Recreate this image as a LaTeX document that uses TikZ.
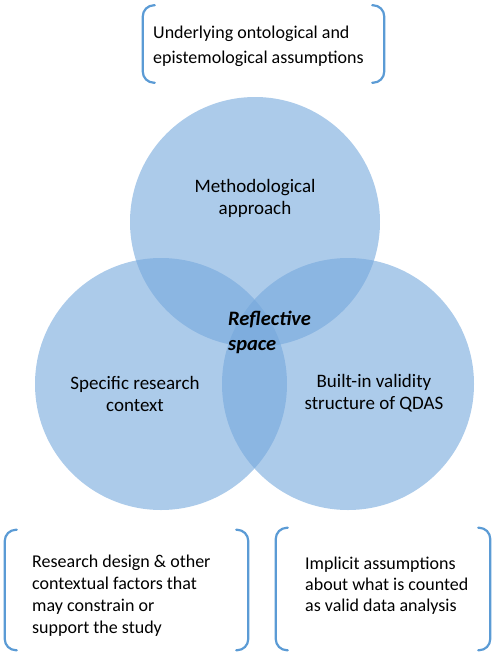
\documentclass[tikz,border=0pt]{standalone}
\usepackage{fontspec}
\setmainfont{Carlito}
\definecolor{vennBlue}{RGB}{117,168,220}
\definecolor{bracketBlue}{RGB}{91,155,213}
% one bracket pair round a frame node: left and right halves with short tails
\newcommand{\vennBrackets}[1]{%
  \draw[bracketline] ([xshift=12pt]#1.north west) -- (#1.north west) -- (#1.south west) -- ([xshift=12pt]#1.south west);
  \draw[bracketline] ([xshift=-12pt]#1.north east) -- (#1.north east) -- (#1.south east) -- ([xshift=-12pt]#1.south east);}

\begin{document}
\begin{tikzpicture}[x=1pt,y=-1pt,
  vennset/.style={fill=vennBlue, fill opacity=0.6},
  vennlabel/.style={align=center, font=\fontsize{19}{22}\selectfont, inner sep=0pt},
  bracketline/.style={bracketBlue, line width=2.2pt, rounded corners=11pt, line cap=round},
  bracketframe/.style={inner sep=0pt},
  notetext/.style={inner sep=0pt, anchor=west, align=left, font=\fontsize{18}{22}\selectfont}]
\useasboundingbox (0,0) rectangle (500,662);
% the three sets
\fill[vennset] (255,222) circle[radius=125];
\fill[vennset] (161,384) circle[radius=126];
\fill[vennset] (348,384) circle[radius=126];
% labels in the circles
\node[vennlabel] (method) at (255,198) {Methodological\\approach};
\node[vennlabel] (context) at (135,394) {Specific research\\context};
\node[vennlabel] (qdas) at (374,393) {Built-in validity\\structure of QDAS};
\node[inner sep=0pt, anchor=west, align=left, font=\fontsize{20.5}{25}\selectfont\bfseries\itshape] (reflect) at (228,332) {Reflective\\space};
% bracketed notes
\node[bracketframe, minimum width=241pt, minimum height=77pt] (ontology) at (263.5,44) {};
\vennBrackets{ontology}
\node[notetext, font=\fontsize{18}{25}\selectfont] (ontologytext) at (153,46) {Underlying ontological and\\epistemological assumptions};
\node[bracketframe, minimum width=243pt, minimum height=120pt] (design) at (126.5,590) {};
\vennBrackets{design}
\node[notetext] (designtext) at (32,596) {Research design \& other\\contextual factors that\\may constrain or\\support the study};
\node[bracketframe, minimum width=214pt, minimum height=122pt] (implicit) at (383,589) {};
\vennBrackets{implicit}
\node[notetext, font=\fontsize{18}{21}\selectfont] (implicittext) at (305,586) {Implicit assumptions\\about what is counted\\as valid data analysis};
\end{tikzpicture}
\end{document}
